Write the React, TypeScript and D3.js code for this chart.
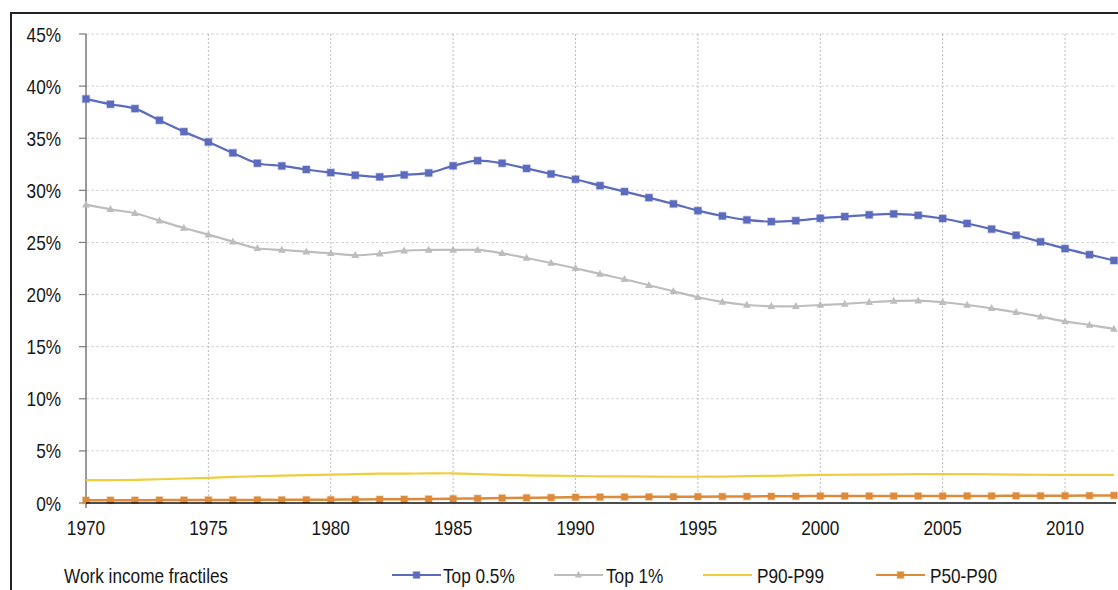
import React from "react";
import * as d3 from "d3";

const years: number[] = d3.range(1970, 2013);

const top05: number[] = [
  38.77, 38.26, 37.84, 36.72, 35.63, 34.64, 33.59, 32.6, 32.34, 32.0,
  31.7, 31.45, 31.29, 31.48, 31.67, 32.35, 32.85, 32.6, 32.1, 31.57,
  31.06, 30.45, 29.88, 29.3, 28.7, 28.05, 27.54, 27.16, 27.0, 27.09,
  27.32, 27.48, 27.65, 27.74, 27.6, 27.3, 26.82, 26.28, 25.69, 25.06,
  24.41, 23.83, 23.27,
];

const top1: number[] = [
  28.63, 28.18, 27.8, 27.09, 26.39, 25.75, 25.08, 24.44, 24.28, 24.12,
  23.96, 23.77, 23.93, 24.21, 24.28, 24.28, 24.28, 23.96, 23.51, 23.03,
  22.52, 21.98, 21.47, 20.89, 20.32, 19.74, 19.29, 19.0, 18.88, 18.88,
  19.0, 19.1, 19.26, 19.39, 19.42, 19.26, 19.0, 18.68, 18.3, 17.88,
  17.43, 17.08, 16.7,
];

const p90p99: number[] = [
  2.2, 2.2, 2.22, 2.28, 2.35, 2.42, 2.5, 2.57, 2.62, 2.67,
  2.72, 2.77, 2.81, 2.82, 2.84, 2.85, 2.78, 2.7, 2.65, 2.62,
  2.59, 2.56, 2.55, 2.53, 2.52, 2.52, 2.53, 2.57, 2.61, 2.65,
  2.69, 2.71, 2.73, 2.75, 2.77, 2.78, 2.77, 2.75, 2.73, 2.71,
  2.69, 2.69, 2.69,
];

const p50p90: number[] = [
  0.26, 0.27, 0.27, 0.28, 0.28, 0.29, 0.29, 0.3, 0.3, 0.31,
  0.32, 0.33, 0.35, 0.36, 0.38, 0.41, 0.44, 0.47, 0.5, 0.52,
  0.55, 0.57, 0.58, 0.59, 0.6, 0.61, 0.62, 0.63, 0.64, 0.65,
  0.67, 0.67, 0.67, 0.67, 0.67, 0.67, 0.68, 0.68, 0.69, 0.69,
  0.7, 0.71, 0.73,
];

const yTicks: number[] = [0, 5, 10, 15, 20, 25, 30, 35, 40, 45];
const xTicks: number[] = [1970, 1975, 1980, 1985, 1990, 1995, 2000, 2005, 2010];
const legendTitle = "Work income fractiles";

type Series = { name: string; values: number[]; color: string; marker: "square" | "triangle" | "none" };

const series: Series[] = [
  { name: "Top 0.5%", values: top05, color: "#5b6bbd", marker: "square" },
  { name: "Top 1%", values: top1, color: "#bdbdbd", marker: "triangle" },
  { name: "P90-P99", values: p90p99, color: "#f0cd3a", marker: "none" },
  { name: "P50-P90", values: p50p90, color: "#de8a38", marker: "square" },
];

const FONT = "'Liberation Sans', Arial, sans-serif";
const SX = 0.82;
const FS = 21;

const x = d3.scaleLinear().domain([1970, 2012]).range([86, 1114]);
const y = d3.scaleLinear().domain([0, 45]).range([503, 34]);

function NText({ x: tx, y: ty, anchor, children }: { x: number; y: number; anchor?: "start" | "middle" | "end"; children: React.ReactNode }) {
  return (
    <text
      transform={`translate(${tx},${ty}) scale(${SX},1)`}
      x={0}
      y={0}
      dy="0.36em"
      textAnchor={anchor || "start"}
      fontSize={FS}
      fill="#161616"
    >
      {children}
    </text>
  );
}

function Marker({ kind, cx, cy, color, size }: { kind: string; cx: number; cy: number; color: string; size: number }) {
  if (kind === "square") {
    return (
      <rect x={cx - size / 2} y={cy - size / 2} width={size} height={size} fill={color} stroke={color} strokeOpacity={0.35} strokeWidth={1.5} />
    );
  }
  if (kind === "triangle") {
    const s = size;
    const p = `${cx},${cy - s * 0.6} ${cx + s * 0.55},${cy + s * 0.4} ${cx - s * 0.55},${cy + s * 0.4}`;
    return <polygon points={p} fill={color} />;
  }
  return null;
}

export default function App() {
  const line = d3
    .line<number>()
    .x((_, i) => x(years[i]))
    .y((v) => y(v))
    .curve(d3.curveCatmullRom.alpha(0.5));

  const legendItems = [
    { s: series[0], lx: 392, tx: 443 },
    { s: series[1], lx: 554, tx: 606 },
    { s: series[2], lx: 703, tx: 757 },
    { s: series[3], lx: 876, tx: 930 },
  ];
  const legendY = 575;

  return (
    <svg
      width={1118}
      height={590}
      style={{ position: "absolute", left: 0, top: 0, background: "#fff" }}
      fontFamily={FONT}
    >
      <rect x={0} y={0} width={1118} height={590} fill="#fff" />
      {/* frame */}
      <path d="M11,600 L11,13 L1130,13" fill="none" stroke="#222" strokeWidth={2} />

      {/* horizontal gridlines */}
      {yTicks.filter((t) => t > 0).map((t) => (
        <line key={"hg" + t} x1={x(1970)} x2={1116} y1={y(t)} y2={y(t)} stroke="#d4d4d4" strokeWidth={1} strokeDasharray="3,2" />
      ))}
      {/* vertical gridlines */}
      {xTicks.filter((t) => t > 1970).map((t) => (
        <line key={"vg" + t} x1={x(t)} x2={x(t)} y1={y(45)} y2={y(0)} stroke="#bcbcbc" strokeWidth={1} strokeDasharray="2,2" />
      ))}

      {/* y axis */}
      <line x1={x(1970)} x2={x(1970)} y1={y(45)} y2={y(0) + 5} stroke="#7a7a7a" strokeWidth={1.5} />
      {yTicks.map((t) => (
        <g key={"yt" + t}>
          <line x1={79} x2={x(1970)} y1={y(t)} y2={y(t)} stroke="#7a7a7a" strokeWidth={1.2} />
          <NText x={61} y={y(t)} anchor="end">
            {t}%
          </NText>
        </g>
      ))}

      {/* x axis labels */}
      {xTicks.map((t) => (
        <NText key={"xt" + t} x={x(t)} y={527} anchor="middle">
          {t}
        </NText>
      ))}

      {/* series */}
      {series.map((s) => (
        <g key={s.name}>
          <path d={line(s.values) || ""} fill="none" stroke={s.color} strokeWidth={s.name === "P50-P90" ? 2.5 : 2.2} />
          {s.marker !== "none" &&
            s.values.map((v, i) => (
              <Marker key={i} kind={s.marker} cx={x(years[i])} cy={y(v)} color={s.color} size={s.name === "P50-P90" ? 6.5 : 7} />
            ))}
        </g>
      ))}

      {/* x axis line */}
      <line x1={x(1970)} x2={1116} y1={y(0)} y2={y(0)} stroke="#111" strokeWidth={1.5} />

      {/* legend */}
      <NText x={64} y={legendY}>
        {legendTitle}
      </NText>
      {legendItems.map(({ s, lx, tx }) => (
        <g key={"lg" + s.name}>
          <line x1={lx} x2={lx + 49} y1={legendY} y2={legendY} stroke={s.color} strokeWidth={2.2} />
          {s.marker !== "none" && <Marker kind={s.marker} cx={lx + 24.5} cy={legendY} color={s.color} size={6.5} />}
          <NText x={tx} y={legendY}>
            {s.name}
          </NText>
        </g>
      ))}
    </svg>
  );
}
